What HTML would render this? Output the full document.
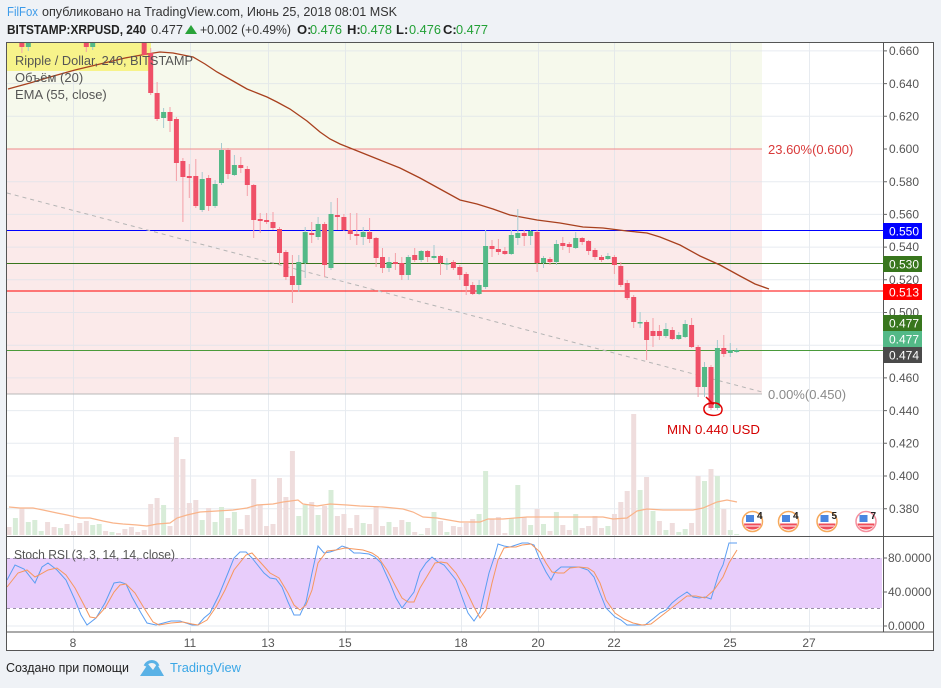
<!DOCTYPE html>
<html><head><meta charset="utf-8"><style>
html,body{margin:0;padding:0;background:#eff2f6;}
svg{display:block;}
text{font-family:"Liberation Sans",Arial,sans-serif;}
</style></head><body>
<svg width="941" height="688" viewBox="0 0 941 688" xmlns="http://www.w3.org/2000/svg">
<defs>
<clipPath id="mp"><rect x="7" y="43" width="876" height="493"/></clipPath>
<clipPath id="sp"><rect x="7" y="536" width="876" height="96"/></clipPath>
</defs>
<rect x="0" y="0" width="941" height="688" fill="#eff2f6"/>
<!-- header -->
<text x="7" y="16" font-size="13" fill="#3d9be9" textLength="31" lengthAdjust="spacingAndGlyphs">FilFox</text>
<text x="42" y="16" font-size="13" fill="#333" textLength="355" lengthAdjust="spacingAndGlyphs">опубликовано на TradingView.com, Июнь 25, 2018 08:01 MSK</text>
<text x="7" y="34" font-size="13" font-weight="bold" fill="#222" textLength="139" lengthAdjust="spacingAndGlyphs">BITSTAMP:XRPUSD, 240</text>
<text x="151" y="34" font-size="13" fill="#333" textLength="32" lengthAdjust="spacingAndGlyphs">0.477</text>
<polygon points="185,34 197,34 191,25" fill="#2aa33a"/>
<text x="200" y="34" font-size="13" fill="#333" textLength="91" lengthAdjust="spacingAndGlyphs">+0.002 (+0.49%)</text>
<text x="297" y="34" font-size="13" font-weight="bold" fill="#222">O:</text>
<text x="310" y="34" font-size="13" fill="#21a035" textLength="32" lengthAdjust="spacingAndGlyphs">0.476</text>
<text x="347" y="34" font-size="13" font-weight="bold" fill="#222">H:</text>
<text x="360" y="34" font-size="13" fill="#21a035" textLength="32" lengthAdjust="spacingAndGlyphs">0.478</text>
<text x="396" y="34" font-size="13" font-weight="bold" fill="#222">L:</text>
<text x="409" y="34" font-size="13" fill="#21a035" textLength="32" lengthAdjust="spacingAndGlyphs">0.476</text>
<text x="443" y="34" font-size="13" font-weight="bold" fill="#222">C:</text>
<text x="456" y="34" font-size="13" fill="#21a035" textLength="32" lengthAdjust="spacingAndGlyphs">0.477</text>

<!-- chart panel -->
<rect x="6.5" y="42.5" width="927" height="608" fill="#ffffff" stroke="#555" stroke-width="1"/>
<!-- fib fills -->
<rect x="7" y="43" width="755" height="106" fill="#f6f9ec"/>
<rect x="7" y="149" width="755" height="245" fill="#fbeaea"/>
<!-- grid -->
<g stroke="#dde3ea" stroke-width="1" opacity="0.7">
<path d="M7 50.9H883M7 83.6H883M7 116.3H883M7 181.7H883M7 214.4H883M7 247.1H883M7 279.8H883M7 312.5H883M7 345.2H883M7 377.9H883M7 410.6H883M7 443.3H883M7 476H883M7 508.7H883"/>
<path d="M73.5 43V632M190.5 43V632M268.5 43V632M345.5 43V632M461.5 43V632M538.5 43V632M614.5 43V632M730.5 43V632M809.5 43V632"/>
<path d="M7 626H883M7 592H883"/>
</g>
<!-- fib lines -->
<path d="M7 149H762" stroke="#ef8a8a" stroke-width="1"/>
<path d="M7 394H762" stroke="#b8b8b8" stroke-width="1"/>
<text x="768" y="154" font-size="13" fill="#d93a3a">23.60%(0.600)</text>
<text x="768" y="399" font-size="13" fill="#8a8a8a">0.00%(0.450)</text>
<!-- horizontal lines -->
<path d="M7 230.5H883" stroke="#0000ff" stroke-width="1"/>
<path d="M7 263.5H883" stroke="#38761d" stroke-width="1"/>
<path d="M7 291H883" stroke="#ff0000" stroke-width="1"/>
<path d="M7 350.5H883" stroke="#4a9a3a" stroke-width="1"/>
<!-- trend dashed -->
<path d="M7 193L762 392" stroke="#b5b5b5" stroke-width="1" stroke-dasharray="4,4"/>
<!-- yellow legend box -->
<rect x="7" y="43" width="144" height="28" fill="#f7f38a"/>

<g clip-path="url(#mp)">
<!-- volume -->
<path fill="#efdddd" d="M6.5 535V527h5V535zM19.4 535V508h5V535zM45.1 535V522h5V535zM51.6 535V527h5V535zM64.5 535V524h5V535zM70.9 535V531h5V535zM77.3 535V523h5V535zM83.8 535V521h5V535zM103.1 535V531h5V535zM116 535V533h5V535zM122.4 535V529h5V535zM128.9 535V527h5V535zM135.3 535V532h5V535zM141.7 535V530h5V535zM148.2 535V504h5V535zM154.6 535V498h5V535zM167.5 535V526h5V535zM173.9 535V437h5V535zM180.4 535V459h5V535zM186.8 535V503h5V535zM193.3 535V500h5V535zM206.1 535V508h5V535zM225.5 535V518h5V535zM238.3 535V529h5V535zM244.8 535V515h5V535zM251.2 535V479h5V535zM257.7 535V505h5V535zM264.1 535V526h5V535zM270.5 535V524h5V535zM277 535V478h5V535zM283.4 535V497h5V535zM289.9 535V451h5V535zM309.2 535V502h5V535zM322.1 535V506h5V535zM334.9 535V516h5V535zM341.4 535V514h5V535zM347.8 535V528h5V535zM354.3 535V515h5V535zM367.1 535V524h5V535zM373.6 535V506h5V535zM380 535V526h5V535zM392.9 535V527h5V535zM399.3 535V520h5V535zM412.2 535V532h5V535zM425.1 535V528h5V535zM438 535V521h5V535zM450.9 535V526h5V535zM457.3 535V527h5V535zM463.7 535V523h5V535zM470.2 535V519h5V535zM489.5 535V519h5V535zM495.9 535V517h5V535zM502.4 535V533h5V535zM521.7 535V517h5V535zM534.6 535V509h5V535zM547.5 535V531h5V535zM560.3 535V525h5V535zM566.8 535V530h5V535zM579.7 535V528h5V535zM586.1 535V526h5V535zM592.5 535V516h5V535zM599 535V528h5V535zM611.9 535V514h5V535zM618.3 535V502h5V535zM624.7 535V491h5V535zM631.2 535V414h5V535zM644.1 535V477h5V535zM656.9 535V521h5V535zM669.8 535V523h5V535zM689.1 535V523h5V535zM695.6 535V476h5V535zM708.5 535V469h5V535zM721.3 535V509h5V535z"/>
<path fill="#d8ecd8" d="M12.9 535V518h5V535zM25.8 535V522h5V535zM32.3 535V520h5V535zM38.7 535V531h5V535zM58 535V528h5V535zM90.2 535V525h5V535zM96.7 535V524h5V535zM109.5 535V532h5V535zM161.1 535V505h5V535zM199.7 535V520h5V535zM212.6 535V522h5V535zM219 535V507h5V535zM231.9 535V512h5V535zM296.3 535V516h5V535zM302.7 535V505h5V535zM315.6 535V515h5V535zM328.5 535V490h5V535zM360.7 535V523h5V535zM386.5 535V522h5V535zM405.8 535V522h5V535zM418.7 535V534h5V535zM431.5 535V512h5V535zM444.4 535V532h5V535zM476.6 535V514h5V535zM483.1 535V471h5V535zM508.8 535V518h5V535zM515.3 535V485h5V535zM528.1 535V525h5V535zM541 535V524h5V535zM553.9 535V512h5V535zM573.2 535V514h5V535zM605.4 535V526h5V535zM637.6 535V490h5V535zM650.5 535V511h5V535zM663.4 535V530h5V535zM676.3 535V532h5V535zM682.7 535V529h5V535zM702 535V481h5V535zM714.9 535V476h5V535zM727.8 535V530h5V535zM734.2 535V534h5V535z"/>
<polyline fill="none" stroke="#f9b48a" stroke-width="1.2" points="9,507 20,508 33,508 43,510 57,513 67,515 80,518 90,518 103,521 113,523 123,524 137,525 147,526 157,524 170,523 177,518 187,515 200,512 217,511 233,510 247,508 257,505 273,504 283,502 298,500 303,504 317,506 330,504 347,505 360,506 383,507 403,509 413,512 423,517 437,518 460,522 480,522 488,519 503,519 527,517 547,517 570,517 603,517 613,519 627,518 637,511 647,509 663,510 693,510 703,508 717,502 727,500 737,502"/>
<!-- EMA -->
<polyline fill="none" stroke="#a8401e" stroke-width="1.3" points="8,89 30,83 50,77 75,70 100,64 125,58 147,54 160,52 173,53 183,55 193,57 205,64 217,72 233,81 247,89 257,93 267,97 277,102 290,109 307,121 320,132 330,139 340,144 350,148 360,152 380,160 400,168 420,178 440,189 460,200 477,204 493,209 510,215 537,220 560,223 583,227 603,228 627,231 647,233 660,237 680,245 700,256 720,265 740,276 755,284 769,289"/>
<!-- wicks -->
<path stroke="#f4a0a8" stroke-width="1" fill="none" d="M21.9 43V53M86.3 43V52M144.2 43V55M150.7 48V95M157.1 82V121M170 107V132M176.4 117V181M182.9 158V222M189.3 164V198M195.8 159V208M208.6 175V211M228 148V179M240.8 157V173M247.3 166V196M253.7 184V238M260.2 213V233M266.6 213V224M273 212V230M279.5 227V265M285.9 250V280M292.4 255V303M311.7 222V243M324.6 222V277M337.4 198V230M343.9 214V231M350.3 213V240M356.8 213V245M369.6 218V243M376.1 237V267M382.5 248V273M395.4 253V270M401.8 257V280M414.7 248V262M427.6 250V262M440.5 255V275M453.4 260V270M459.8 265V280M466.2 272V295M472.7 282V295M492 240V257M498.4 239V255M504.9 247V255M524.2 230V246M537.1 230V272M550 257V265M562.8 237V250M569.3 242V253M582.2 237V245M588.6 240V255M595 248V260M601.5 255V262M614.4 255V274M620.8 262V287M627.2 280V300M633.7 295V328M646.6 320V360M653 318V347M659.4 325V340M672.3 327V340M691.6 318V348M698.1 345V397M711 365V410M723.8 335V357"/>
<path stroke="#a6cbd0" stroke-width="1" fill="none" d="M28.3 43V51M92.7 43V50M163.6 108V128M202.2 172V212M215.1 180V208M221.5 143V185M234.4 155V176M298.8 255V292M305.2 227V278M318.1 217V240M331 202V270M363.2 227V245M389 257V272M408.3 255V280M421.2 250V262M434 245V260M446.9 258V270M479.1 280V295M485.6 230V289M511.3 230V255M517.8 209V245M530.6 230V245M543.5 256V268M556.4 240V265M575.7 232V249M607.9 253V260M640.1 312V328M665.9 323V338M678.8 332V340M685.2 320V338M704.5 362V397M717.4 340V410M730.3 343V357M736.7 348V353"/>
<!-- bodies -->
<path fill="#ef5067" d="M19.4 43h5V47h-5zM83.8 43h5V47h-5zM141.7 43h5V55h-5zM148.2 53h5V93h-5zM154.6 93h5V119h-5zM167.5 112h5V121h-5zM173.9 119h5V163h-5zM180.4 161h5V177h-5zM186.8 176h5V178h-5zM193.3 176h5V206h-5zM206.1 178h5V206h-5zM225.5 150h5V174h-5zM238.3 165h5V168h-5zM244.8 169h5V185h-5zM251.2 185h5V220h-5zM257.7 219h5V221h-5zM264.1 220h5V222h-5zM270.5 222h5V228h-5zM277 229h5V253h-5zM283.4 252h5V277h-5zM289.9 276h5V285h-5zM309.2 233h5V235h-5zM322.1 224h5V265h-5zM334.9 215h5V217h-5zM341.4 217h5V230h-5zM347.8 230h5V234h-5zM354.3 234h5V236h-5zM367.1 232h5V239h-5zM373.6 238h5V258h-5zM380 257h5V268h-5zM392.9 262h5V264h-5zM399.3 263h5V275h-5zM412.2 255h5V260h-5zM425.1 251h5V257h-5zM438 256h5V263h-5zM450.9 262h5V268h-5zM457.3 267h5V275h-5zM463.7 274h5V286h-5zM470.2 285h5V294h-5zM489.5 246h5V249h-5zM495.9 249h5V252h-5zM502.4 251h5V254h-5zM521.7 233h5V236h-5zM534.6 232h5V263h-5zM547.5 259h5V262h-5zM560.3 243h5V246h-5zM566.8 244h5V247h-5zM579.7 238h5V242h-5zM586.1 241h5V251h-5zM592.5 250h5V257h-5zM599 257h5V260h-5zM611.9 257h5V265h-5zM618.3 266h5V285h-5zM624.7 283h5V298h-5zM631.2 297h5V322h-5zM644.1 322h5V340h-5zM650.5 331h5V336h-5zM656.9 331h5V336h-5zM669.8 330h5V339h-5zM689.1 325h5V347h-5zM695.6 347h5V387h-5zM708.5 367h5V408h-5zM721.3 348h5V354h-5z"/>
<path fill="#53b987" d="M25.8 43h5V47h-5zM90.2 43h5V47h-5zM161.1 112h5V118h-5zM199.7 179h5V210h-5zM212.6 184h5V206h-5zM219 150h5V183h-5zM231.9 165h5V175h-5zM296.3 262h5V285h-5zM302.7 232h5V263h-5zM315.6 224h5V237h-5zM328.5 214h5V268h-5zM360.7 232h5V237h-5zM386.5 262h5V268h-5zM405.8 257h5V275h-5zM418.7 251h5V260h-5zM431.5 256h5V258h-5zM444.4 263h5V264.5h-5zM476.6 285h5V294h-5zM483.1 246h5V287h-5zM508.8 235h5V254h-5zM515.3 233h5V238h-5zM528.1 231h5V236h-5zM541 258h5V263h-5zM553.9 244h5V262h-5zM573.2 238h5V248h-5zM605.4 256h5V259h-5zM637.6 322h5V323.5h-5zM663.4 329h5V336h-5zM676.3 335h5V339h-5zM682.7 324h5V337h-5zM702 367h5V387h-5zM714.9 348h5V408h-5zM727.8 350h5V353h-5zM734.2 350h5V352h-5z"/>
</g>
<!-- legend text -->
<text x="15" y="65" font-size="13" fill="#555" textLength="178" lengthAdjust="spacingAndGlyphs">Ripple / Dollar, 240, BITSTAMP</text>
<text x="15" y="82" font-size="13" fill="#555">Объём (20)</text>
<text x="15" y="99" font-size="13" fill="#555">EMA (55, close)</text>

<!-- MIN annotation -->
<path d="M706 397 L712 403 C720 402 724 408 721 413 C717 417 705 416 704 410 C703 405 709 402 714 404" fill="none" stroke="#e00000" stroke-width="1.5"/>
<text x="667" y="434" font-size="13" fill="#d40000" textLength="93" lengthAdjust="spacingAndGlyphs">MIN 0.440 USD</text>

<!-- event icons -->
<g>
<circle cx="752.5" cy="521.5" r="10" fill="#fff" stroke="#f6a95c" stroke-width="1.5"/>
<rect x="746" y="515" width="8" height="7" fill="#4a86e0"/>
<path d="M744 523.5H761A8.5 6 0 0 1 744 523.5Z" fill="#ef4d5a"/>
<path d="M745 526H760" stroke="#fff" stroke-width="1"/>
<text x="757" y="519" font-size="10" font-weight="bold" fill="#222">4</text>
<circle cx="788.5" cy="521.5" r="10" fill="#fff" stroke="#f6a95c" stroke-width="1.5"/>
<rect x="782" y="515" width="8" height="7" fill="#4a86e0"/>
<path d="M780 523.5H797A8.5 6 0 0 1 780 523.5Z" fill="#ef4d5a"/>
<path d="M781 526H796" stroke="#fff" stroke-width="1"/>
<text x="793" y="519" font-size="10" font-weight="bold" fill="#222">4</text>
<circle cx="827" cy="521.5" r="10" fill="#fff" stroke="#f6a95c" stroke-width="1.5"/>
<rect x="820.5" y="515" width="8" height="7" fill="#4a86e0"/>
<path d="M818.5 523.5H835.5A8.5 6 0 0 1 818.5 523.5Z" fill="#ef4d5a"/>
<path d="M819.5 526H834.5" stroke="#fff" stroke-width="1"/>
<text x="831.5" y="519" font-size="10" font-weight="bold" fill="#222">5</text>
<circle cx="866" cy="521.5" r="10" fill="#fff" stroke="#f5909e" stroke-width="1.5"/>
<rect x="859.5" y="515" width="8" height="7" fill="#4a86e0"/>
<path d="M857.5 523.5H874.5A8.5 6 0 0 1 857.5 523.5Z" fill="#ef4d5a"/>
<path d="M858.5 526H873.5" stroke="#fff" stroke-width="1"/>
<text x="870.5" y="519" font-size="10" font-weight="bold" fill="#222">7</text>
</g>

<!-- pane separator -->
<path d="M7 536.5H934" stroke="#555" stroke-width="1"/>
<!-- stoch pane -->
<rect x="7" y="558" width="875" height="50" fill="#e8cdfb"/>
<path d="M7 558.5H882M7 608.5H882" stroke="#9a8fa8" stroke-width="1" stroke-dasharray="3,3"/>
<text x="14" y="559" font-size="13" fill="#555" textLength="161" lengthAdjust="spacingAndGlyphs">Stoch RSI (3, 3, 14, 14, close)</text>
<g clip-path="url(#sp)">
<polyline fill="none" stroke="#5b9ef2" stroke-width="1" points="7,580 15,565 24,569 35,583 42,567 48,563 57,570 66,580 75,600 81,615 87,625 96,618 105,603 114,583 120,582 126,584 132,597 141,613 147,623 156,625 171,621 180,621 192,625 198,625 204,618 210,613 219,595 228,573 234,558 240,552 246,552 252,558 264,573 270,578 276,579 282,587 288,602 294,615 300,615 306,602 312,573 318,546 324,553 330,552 336,550 342,546 348,548 354,553 360,553 369,554 375,557 381,563 390,583 396,598 402,608 408,600 414,592 420,572 426,563 432,557 438,562 444,565 456,580 462,597 468,613 474,621 480,612 489,573 495,555 498,544 504,546 510,547 516,545 522,543 528,543 534,545 540,560 546,572 551,580 555,572 561,567 570,567 579,567 588,570 594,577 600,593 606,608 615,617 621,620 627,625 636,625 645,625 654,618 660,613 666,610 672,603 678,598 687,592 693,597 699,598 705,597 711,599 719,573 723,565 729,543 737,543"/>
<polyline fill="none" stroke="#f6975e" stroke-width="1" points="7,587 18,573 27,570 35,577 39,575 48,570 57,568 66,575 75,588 84,605 90,617 96,618 105,608 114,592 120,585 126,584 135,593 144,608 153,622 159,625 171,623 183,622 192,624 198,625 207,620 216,607 225,590 234,570 246,555 252,553 261,563 270,573 279,578 288,593 294,605 300,610 306,605 312,590 318,563 327,551 336,550 345,548 354,549 363,550 372,553 378,557 387,570 396,587 402,598 408,602 414,602 420,588 429,573 435,563 441,562 447,563 456,573 465,588 474,607 480,618 486,610 492,583 498,560 504,548 510,547 516,547 522,545 531,544 540,552 546,563 552,572 558,573 564,573 570,568 579,567 588,568 594,572 600,583 606,600 615,613 624,619 633,623 642,625 651,624 660,617 669,610 678,603 687,596 696,596 705,598 714,590 723,577 729,563 737,550"/>
</g>
<!-- time axis separator -->
<path d="M7 632H934" stroke="#555" stroke-width="1"/>
<!-- price axis -->
<path d="M883.5 43V632" stroke="#555" stroke-width="1"/>
<g stroke="#666" stroke-width="1">
<path d="M883 50.9h4M883 83.6h4M883 116.3h4M883 149h4M883 181.7h4M883 214.4h4M883 247.1h4M883 279.8h4M883 312.5h4M883 377.9h4M883 410.6h4M883 443.3h4M883 476h4M883 508.7h4M883 558h4M883 592h4M883 626h4"/>
</g>
<g font-size="12" fill="#555">
<text x="889" y="55">0.660</text>
<text x="889" y="88">0.640</text>
<text x="889" y="120.5">0.620</text>
<text x="889" y="153">0.600</text>
<text x="889" y="186">0.580</text>
<text x="889" y="218.5">0.560</text>
<text x="889" y="251">0.540</text>
<text x="889" y="284">0.520</text>
<text x="889" y="316.5">0.500</text>
<text x="889" y="382">0.460</text>
<text x="889" y="415">0.440</text>
<text x="889" y="447.5">0.420</text>
<text x="889" y="480">0.400</text>
<text x="889" y="513">0.380</text>
<text x="888" y="562">80.0000</text>
<text x="888" y="596">40.0000</text>
<text x="888" y="630">0.0000</text>
</g>
<rect x="883" y="223" width="39" height="16" fill="#0000ff"/>
<rect x="883" y="256" width="39" height="16" fill="#38761d"/>
<rect x="883" y="284" width="39" height="16" fill="#ff0000"/>
<rect x="883" y="315" width="39" height="16" fill="#38761d"/>
<rect x="883" y="331" width="39" height="16" fill="#53b987"/>
<rect x="883" y="347" width="39" height="16" fill="#4a4a4a"/>
<g font-size="12" fill="#fff">
<text x="889" y="235.5">0.550</text>
<text x="889" y="268.5">0.530</text>
<text x="889" y="296.5">0.513</text>
<text x="889" y="327.5">0.477</text>
<text x="889" y="343.5">0.477</text>
<text x="889" y="359.5">0.474</text>
</g>
<!-- time labels -->
<g font-size="12" fill="#555" text-anchor="middle">
<text x="73" y="647">8</text>
<text x="190" y="647">11</text>
<text x="268" y="647">13</text>
<text x="345" y="647">15</text>
<text x="461" y="647">18</text>
<text x="538" y="647">20</text>
<text x="614" y="647">22</text>
<text x="730" y="647">25</text>
<text x="809" y="647">27</text>
</g>
<!-- footer -->
<text x="6" y="672" font-size="13" fill="#222" textLength="123" lengthAdjust="spacingAndGlyphs">Создано при помощи</text>
<path d="M140 676 L148 664 L153 670 L157 664 L164 676 Z" fill="#5ab2e6"/>
<path d="M145 666 C148 660 156 660 158 666" fill="none" stroke="#5ab2e6" stroke-width="3"/>
<text x="170" y="672" font-size="13" fill="#3ba7e6" textLength="71" lengthAdjust="spacingAndGlyphs">TradingView</text>
</svg>
</body></html>
